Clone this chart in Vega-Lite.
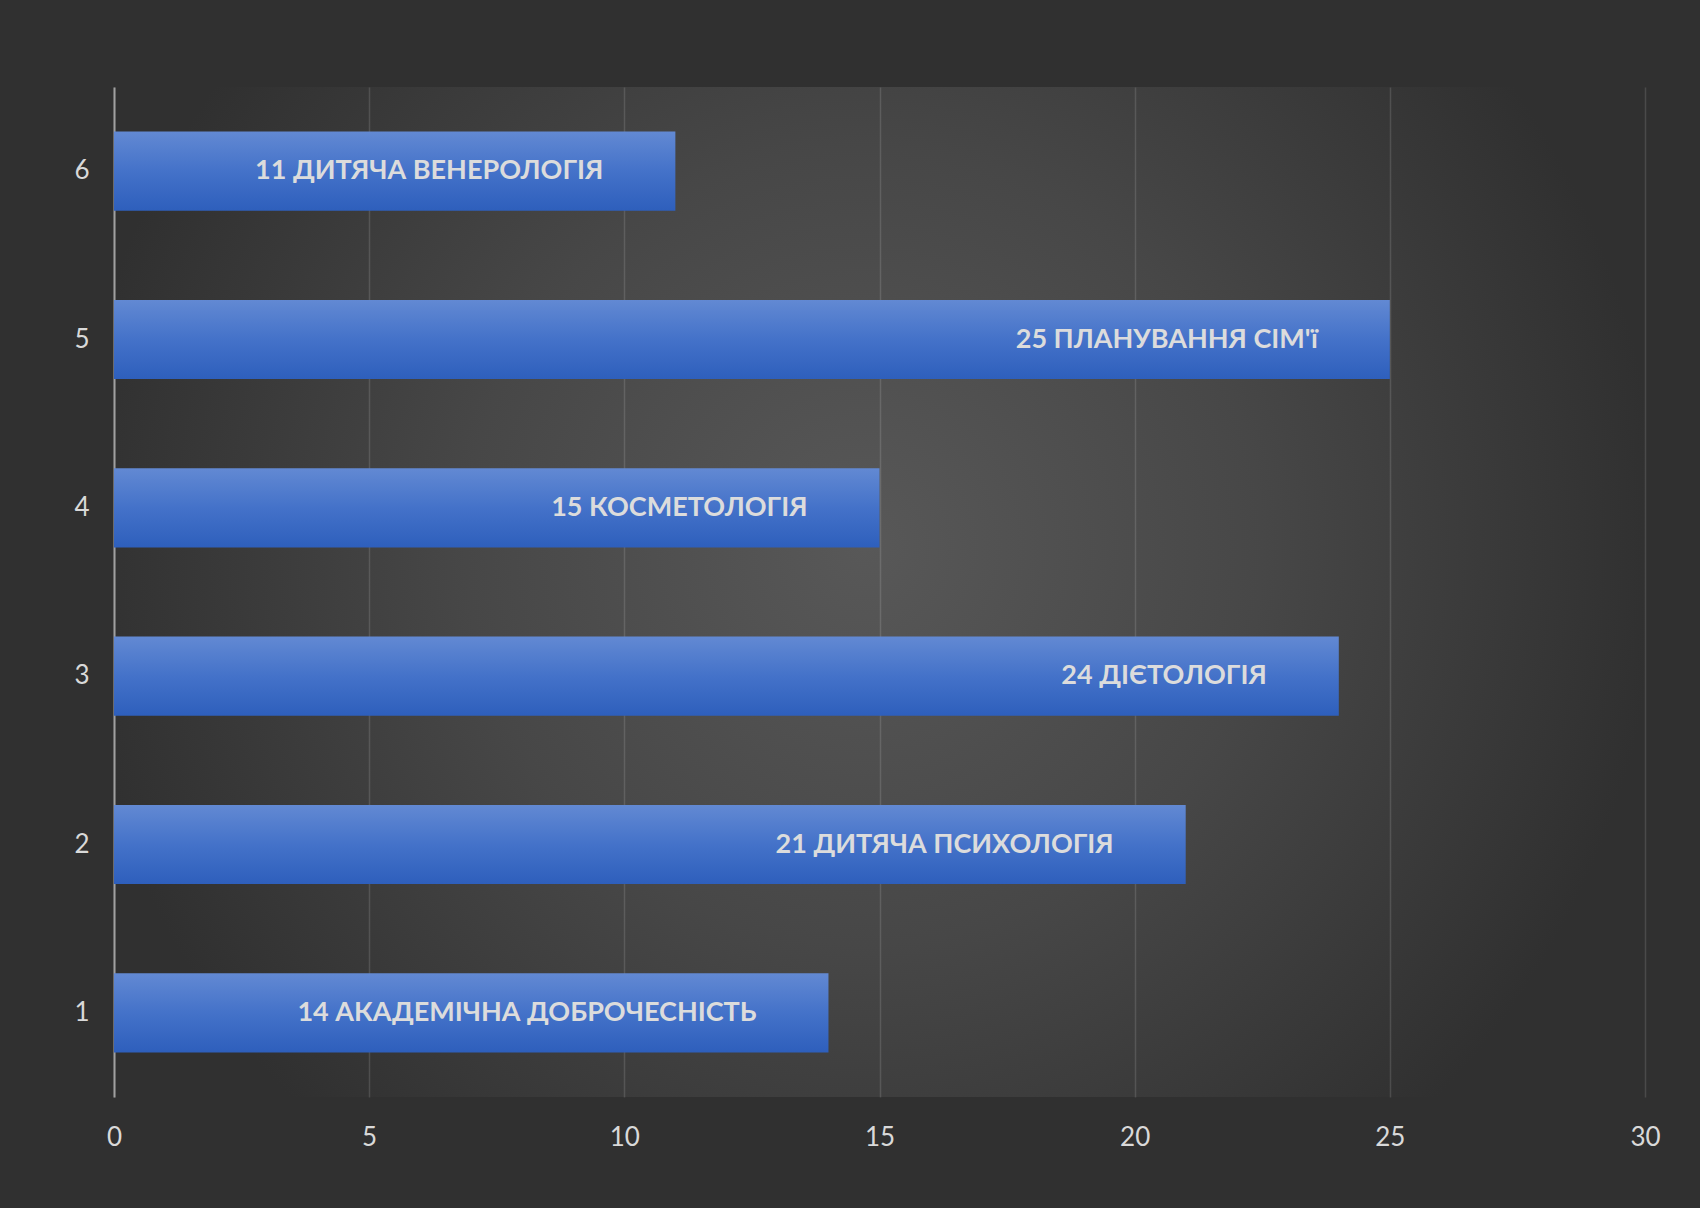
{
  "$schema": "https://vega.github.io/schema/vega-lite/v6.json",
  "autosize": {"type": "none"},
  "width": 1531,
  "height": 1010,
  "padding": {"left": 114, "top": 87, "right": 55, "bottom": 111},
  "background": "#303030",
  "config": {
    "view": {
      "stroke": null,
      "fill": {
        "gradient": "radial",
        "x1": 0.49, "y1": 0.47, "r1": 0,
        "x2": 0.49, "y2": 0.47, "r2": 0.52,
        "stops": [
          {"offset": 0, "color": "#585858"},
          {"offset": 0.5, "color": "#474747"},
          {"offset": 1, "color": "#303030"}
        ]
      }
    },
    "font": "Lato"
  },
  "data": {
    "values": [
      {"n": "1", "value": 14, "label": "14 АКАДЕМІЧНА ДОБРОЧЕСНІСТЬ"},
      {"n": "2", "value": 21, "label": "21 ДИТЯЧА ПСИХОЛОГІЯ"},
      {"n": "3", "value": 24, "label": "24 ДІЄТОЛОГІЯ"},
      {"n": "4", "value": 15, "label": "15 КОСМЕТОЛОГІЯ"},
      {"n": "5", "value": 25, "label": "25 ПЛАНУВАННЯ СІМ'ї"},
      {"n": "6", "value": 11, "label": "11 ДИТЯЧА ВЕНЕРОЛОГІЯ"}
    ]
  },
  "encoding": {
    "y": {
      "field": "n",
      "type": "ordinal",
      "sort": "descending",
      "scale": {"paddingInner": 0.53, "paddingOuter": 0.265},
      "axis": {
        "title": null,
        "labelAngle": 0,
        "labelFontSize": 26,
        "labelColor": "#d9d9d9",
        "labelPadding": 25,
        "ticks": false,
        "domainColor": "#a0a0a0",
        "domainWidth": 2,
        "grid": false
      }
    }
  },
  "layer": [
    {
      "mark": {
        "type": "bar",
        "color": {
          "gradient": "linear",
          "x1": 0, "y1": 0, "x2": 0, "y2": 1,
          "stops": [
            {"offset": 0, "color": "#6289d3"},
            {"offset": 0.5, "color": "#4472c9"},
            {"offset": 1, "color": "#2e5fbc"}
          ]
        }
      },
      "encoding": {
        "x": {
          "field": "value",
          "type": "quantitative",
          "scale": {"domain": [0, 30], "nice": false},
          "axis": {
            "title": null,
            "values": [0, 5, 10, 15, 20, 25, 30],
            "labelFontSize": 26,
            "labelColor": "#d9d9d9",
            "labelPadding": 27,
            "labelFlush": false,
            "ticks": false,
            "domain": false,
            "grid": true,
            "gridColor": "#ffffff",
            "gridOpacity": 0.13,
            "gridWidth": 1.5
          }
        }
      }
    },
    {
      "mark": {
        "type": "text",
        "align": "right",
        "baseline": "middle",
        "dx": -72,
        "fontSize": 27,
        "fontWeight": "bold",
        "color": "#dcdcdc"
      },
      "encoding": {
        "x": {"field": "value", "type": "quantitative"},
        "text": {"field": "label"}
      }
    }
  ]
}
